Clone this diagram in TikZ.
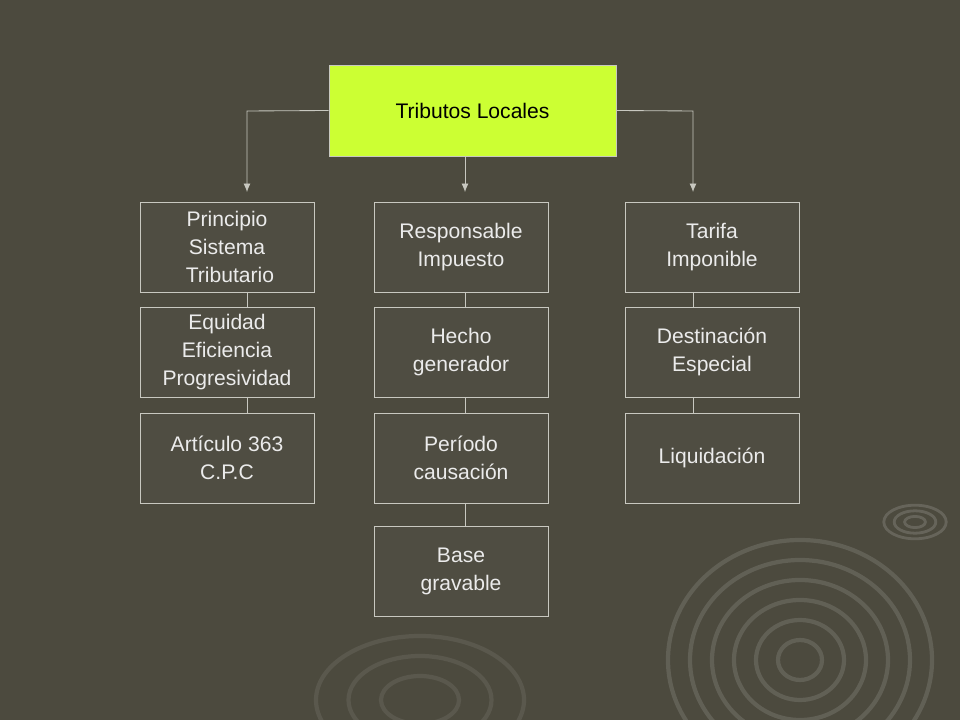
\documentclass[tikz,border=0pt]{standalone}
\usepackage{fontspec}
\setmainfont{Liberation Sans}
\definecolor{bgc}{HTML}{4C4A3E}
\definecolor{boxc}{HTML}{4F4D42}
\definecolor{limec}{HTML}{CCFF33}
\definecolor{linec}{HTML}{C8C8C0}
\tikzset{
  item/.style={draw=linec, fill=boxc, text=white!92!black, minimum width=4.35cm, minimum height=2.25cm, align=center, font=\fontsize{15}{20}\selectfont, inner sep=0pt},
  link/.style={draw=linec, line width=0.6pt},
  arr/.style={link, -{Latex[length=6pt,width=5pt]}}
}
\usetikzlibrary{arrows.meta}
\begin{document}
\begin{tikzpicture}[x=0.025cm, y=-0.025cm]
	\useasboundingbox (0,0) rectangle (960,720);
	\fill[bgc] (0,0) rectangle (960,720);
	% decorative rings
	\begin{scope}
	\clip (0,0) rectangle (960,720);
	\foreach \r in {20,40,60,80,100,120} {
	  \draw[white, opacity=0.12, line width=3pt] (800,660) ellipse ({\r*1.1} and \r);
	}
	\foreach \r in {8,16,24} {
	  \draw[white, opacity=0.15, line width=2pt] (915,522) ellipse ({\r*1.3} and \r*0.7);
	}
	\foreach \r in {30,55,80} {
	  \draw[white, opacity=0.08, line width=3pt] (420,700) ellipse ({\r*1.3} and \r*0.8);
	}
	\end{scope}

	\node[item, fill=limec, text=black, minimum width=7.175cm, minimum height=2.275cm] (top) at (472.5,110.5) {Tributos Locales};

	\node[item] (p1) at (227,247) {Principio\\ Sistema\\ \ Tributario};
	\node[item] (p2) at (227,352) {Equidad\\ Eficiencia\\ Progresividad};
	\node[item] (p3) at (227,458) {Artículo 363\\ C.P.C};

	\node[item] (r1) at (461,247) {Responsable\\ Impuesto};
	\node[item] (r2) at (461,352) {Hecho\\ generador};
	\node[item] (r3) at (461,458) {Período\\ causación};
	\node[item] (r4) at (461,571) {Base\\ gravable};

	\node[item] (t1) at (712,247) {Tarifa\\ Imponible};
	\node[item] (t2) at (712,352) {Destinación\\ Especial};
	\node[item] (t3) at (712,458) {Liquidación};

	\coordinate (cl) at (247,111);
	\coordinate (cr) at (693,111);
	\draw[arr] (top.west) -- (cl) -- (247,192);
	\draw[arr] (465,156) -- (465,192);
	\draw[arr] (top.east) -- (cr) -- (693,192);

	\draw[link] (247,292) -- (247,307);
	\draw[link] (247,397) -- (247,413);
	\draw[link] (465,292) -- (465,307);
	\draw[link] (465,397) -- (465,413);
	\draw[link] (465,503) -- (465,526);
	\draw[link] (693,292) -- (693,307);
	\draw[link] (693,397) -- (693,413);
\end{tikzpicture}
\end{document}
